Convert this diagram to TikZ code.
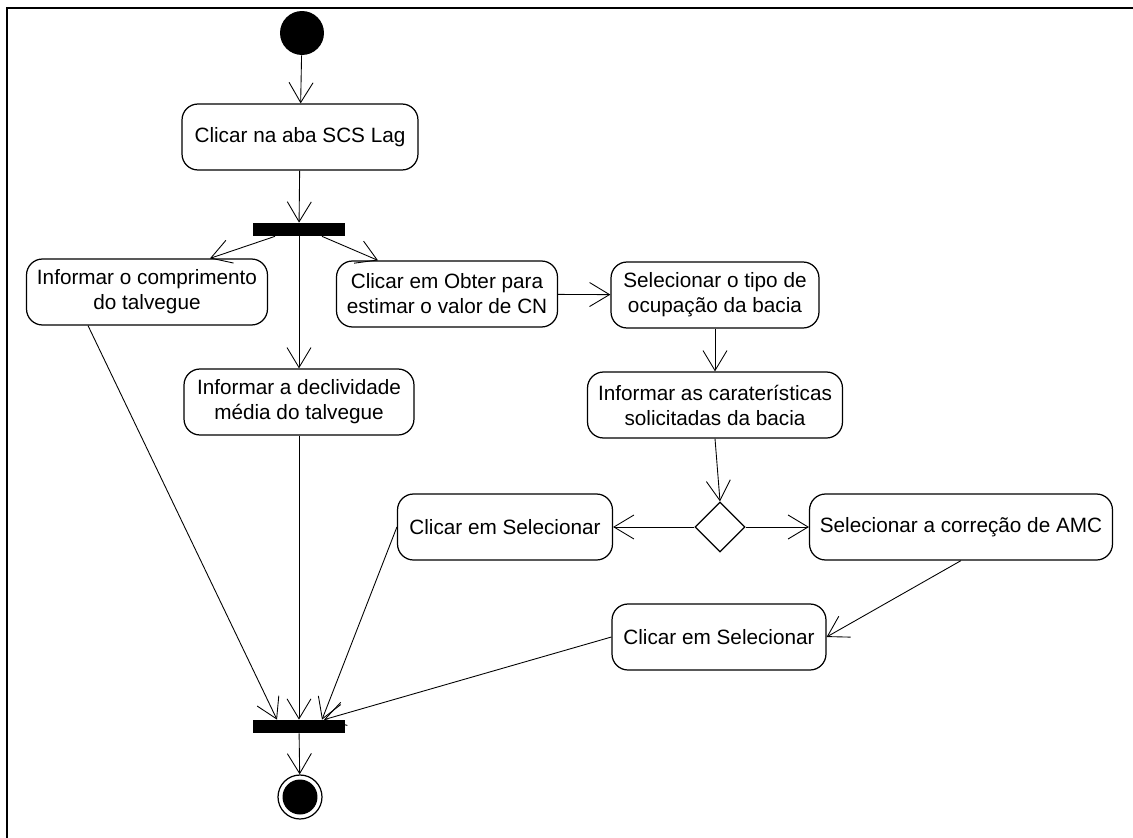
\documentclass[tikz,border=0pt]{standalone}
\usepackage{fontspec}
\setmainfont{Liberation Sans}
\usetikzlibrary{arrows.meta,shapes.geometric}

\tikzstyle{action}=[draw, line width=0.7pt, rounded corners=0.32cm, align=center, minimum height=1.32cm, inner sep=2pt, font=\fontsize{11.8}{14.2}\selectfont]
\tikzstyle{syncbar}=[fill=black, rectangle, minimum width=1.84cm, minimum height=0.26cm, inner sep=0pt]
\tikzstyle{flow}=[-{Straight Barb[length=0.4cm,width=0.48cm]}, line width=0.5pt]

\begin{document}
\begin{tikzpicture}[x=0.02cm, y=-0.02cm]
\useasboundingbox (0,0) rectangle (1133,838);
\draw[line width=0.04cm] (7,840) -- (7,8) -- (1135,8);

\node [circle, fill=black, minimum size=0.88cm, inner sep=0pt] (start) at (302,33) {};
\node [action, minimum width=4.72cm] (aba) at (300,137) {Clicar na aba SCS Lag};
\node [syncbar] (fork) at (299,229.5) {};
\node [action, minimum width=4.82cm] (comp) at (147,292) {Informar o comprimento\\do talvegue};
\node [action, minimum width=4.42cm] (obter) at (447,294) {Clicar em Obter para\\estimar o valor de CN};
\node [action, minimum width=4.16cm] (tipo) at (715,295) {Selecionar o tipo de\\ocupação da bacia};
\node [action, minimum width=4.6cm] (decl) at (299,402) {Informar a declividade\\média do talvegue};
\node [action, minimum width=5.1cm] (caract) at (715,405) {Informar as caraterísticas\\solicitadas da bacia};
\node [diamond, draw, line width=0.7pt, minimum width=1cm, minimum height=1cm, inner sep=0pt] (dec) at (720,527) {};
\node [action, minimum width=4.3cm] (sel1) at (505,527) {Clicar em Selecionar};
\node [action, minimum width=6.06cm] (amc) at (961,527) {Selecionar a correção de AMC};
\node [action, minimum width=4.28cm] (sel2) at (719,637) {Clicar em Selecionar};
\node [syncbar] (join) at (299,726.5) {};
\node [circle, draw, line width=0.7pt, minimum size=0.88cm, inner sep=0pt,
  path picture={\fill (path picture bounding box.center) circle (0.35cm);}] (end) at (300,797) {};

\draw[flow] (start) -- (aba);
\draw[flow] (aba) -- (fork);
\draw[flow] ([xshift=-0.48cm]fork.south) -- ([xshift=1.26cm]comp.north);
\draw[flow] ([xshift=0.46cm]fork.south) -- ([xshift=-1.38cm]obter.north);
\draw[flow] (fork) -- (decl);
\draw[flow] (obter) -- (tipo);
\draw[flow] (tipo) -- (caract);
\draw[flow] (caract.south) -- (dec.north);
\draw[flow] (dec) -- (sel1);
\draw[flow] (dec) -- (amc);
\draw[flow] (amc.south) -- (sel2.east);
\draw[flow] ([xshift=-1.18cm]comp.south) -- ([xshift=-0.44cm]join.north);
\draw[flow] (decl) -- (join);
\draw[flow] (sel1.west) -- ([xshift=0.46cm]join.north);
\draw[flow] (sel2.west) -- ([xshift=0.5cm]join.north);
\draw[flow] (join) -- (end);
\end{tikzpicture}
\end{document}
